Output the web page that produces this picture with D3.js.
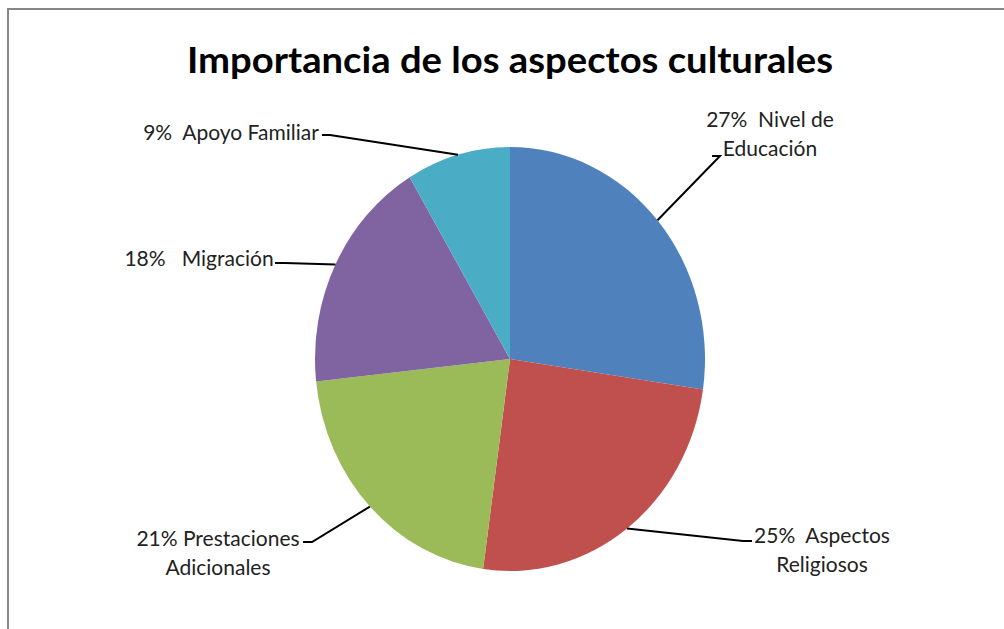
<!DOCTYPE html>
<html>
<head>
<meta charset="utf-8">
<script src="https://cdn.jsdelivr.net/npm/d3@7"></script>
<style>
  body { margin: 0; background: #fff; }
  svg { display: block; }
</style>
</head>
<body>
<div id="chart"></div>
<script>
// data
const title = 'Importancia de los aspectos culturales';
const categories = ['Nivel de Educación', 'Aspectos Religiosos', 'Prestaciones Adicionales', 'Migración', 'Apoyo Familiar'];
const values = [27.3, 24.9, 21.1, 18.1, 8.6];
const labelLines = [
    ['27%  Nivel de', 'Educación'],
    ['25%  Aspectos', 'Religiosos'],
    ['21% Prestaciones', 'Adicionales'],
    ['18%   Migración'],
    ['9%  Apoyo Familiar'],
];
const colors = ['#4F81BD', '#C0504D', '#9BBB59', '#8064A2', '#4BACC6'];

const width = 1004;
const height = 629;
const cx = 510, cy = 359;
const rx = 195, ry = 212;

// label placement per slice (text block centre and leader end)
const labelPos = [
    { x: 770, y: 118, lx: 712, ly: 156, hx: 720 },
    { x: 822, y: 534, lx: 752, ly: 541, hx: 743 },
    { x: 218, y: 537, lx: 303, ly: 542, hx: 312 },
    { x: 199, y: 257, lx: 275, ly: 263, hx: 285 },
    { x: 231, y: 131, lx: 322, ly: 135, hx: 330 },
];

const svg = d3.select('#chart')
    .append('svg')
    .attr('width', width)
    .attr('height', height);

// frame (only top and left edges show in the reference)
svg.append('line')
    .attr('x1', 7).attr('x2', width).attr('y1', 9).attr('y2', 9)
    .attr('stroke', '#878787').attr('stroke-width', 2);
svg.append('line')
    .attr('x1', 8).attr('x2', 8).attr('y1', 8).attr('y2', height)
    .attr('stroke', '#878787').attr('stroke-width', 2);

svg.append('text')
    .attr('x', 510)
    .attr('y', 73)
    .attr('text-anchor', 'middle')
    .attr('font-family', 'Lato, "Open Sans", sans-serif')
    .attr('font-weight', 'bold')
    .attr('font-size', 36)
    .attr('fill', '#000')
    .attr('textLength', 646)
    .attr('lengthAdjust', 'spacingAndGlyphs')
    .text(title);

const pie = d3.pie().sort(null).value(d => d);
const arcs = pie(values);
const arc = d3.arc().innerRadius(0).outerRadius(rx);

svg.append('g')
    .attr('transform', `translate(${cx},${cy}) scale(1,${ry / rx})`)
    .selectAll('path')
    .data(arcs)
    .join('path')
    .attr('d', arc)
    .attr('fill', (d, i) => colors[i])
    .attr('stroke', 'none');

// leader lines: from the outer edge at mid-angle to the label
const edge = (d) => {
    const a = (d.startAngle + d.endAngle) / 2;
    return [cx + rx * Math.sin(a), cy - ry * Math.cos(a)];
};

svg.append('g')
    .selectAll('polyline')
    .data(arcs)
    .join('polyline')
    .attr('points', (d, i) => {
        const p = labelPos[i];
        const e = edge(d);
        return [[p.lx, p.ly], [p.hx, p.ly], e].map(q => q.join(',')).join(' ');
    })
    .attr('fill', 'none')
    .attr('stroke', '#000')
    .attr('stroke-width', 2);

const labels = svg.append('g')
    .attr('font-family', 'Lato, "Open Sans", sans-serif')
    .attr('font-size', 21)
    .attr('fill', '#222');

labels.selectAll('text')
    .data(arcs)
    .join('text')
    .attr('text-anchor', 'middle')
    .attr('dominant-baseline', 'central')
    .attr('x', (d, i) => labelPos[i].x)
    .attr('y', (d, i) => labelPos[i].y)
    .style('white-space', 'pre')
    .selectAll('tspan')
    .data((d, i) => labelLines[i].map((t, k) => ({ t, k, i })))
    .join('tspan')
    .attr('x', d => labelPos[d.i].x)
    .attr('dy', d => d.k === 0 ? 0 : 29)
    .text(d => d.t);
</script>
</body>
</html>
